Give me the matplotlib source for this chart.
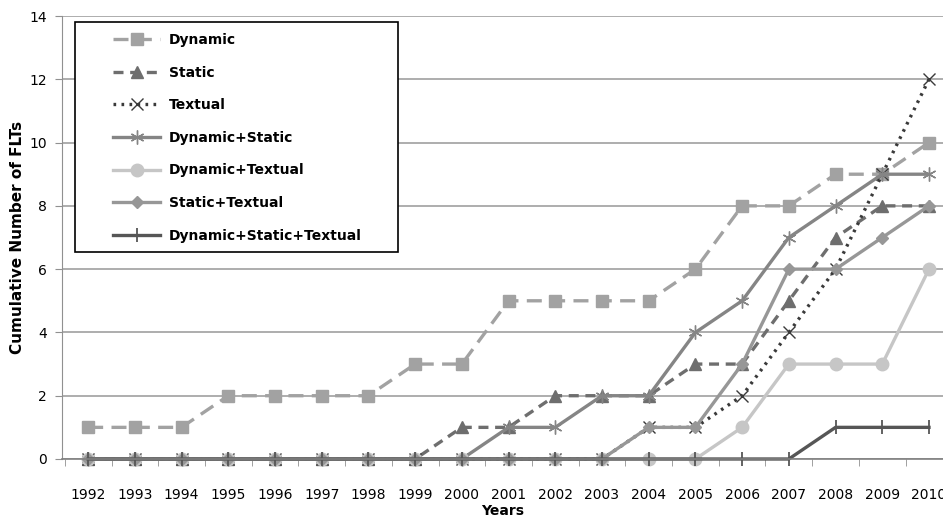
import matplotlib
matplotlib.use("Agg")
import matplotlib.pyplot as plt
from matplotlib.patches import Rectangle
import numpy as np

years = [str(y) for y in range(1992, 2011)]
dynamic = [1, 1, 1, 2, 2, 2, 2, 3, 3, 5, 5, 5, 5, 6, 8, 8, 9, 9, 10]
static = [0, 0, 0, 0, 0, 0, 0, 0, 1, 1, 2, 2, 2, 3, 3, 5, 7, 8, 8]
textual = [0, 0, 0, 0, 0, 0, 0, 0, 0, 0, 0, 0, 1, 1, 2, 4, 6, 9, 12]
dyn_static = [0, 0, 0, 0, 0, 0, 0, 0, 0, 1, 1, 2, 2, 4, 5, 7, 8, 9, 9]
dyn_textual = [0, 0, 0, 0, 0, 0, 0, 0, 0, 0, 0, 0, 0, 0, 1, 3, 3, 3, 6]
static_textual = [0, 0, 0, 0, 0, 0, 0, 0, 0, 0, 0, 0, 1, 1, 3, 6, 6, 7, 8]
dst = [0, 0, 0, 0, 0, 0, 0, 0, 0, 0, 0, 0, 0, 0, 0, 0, 1, 1, 1]

series = [
    ("Dynamic", dynamic, dict(color="#a2a2a2", linestyle=(0, (4.5, 2.5)), marker="s", markersize=9)),
    ("Static", static, dict(color="#6e6e6e", linestyle=(0, (3, 2)), marker="^", markersize=9)),
    ("Textual", textual, dict(color="#3a3a3a", linestyle=(0, (0.8, 1.6)), marker="x", markersize=8, markeredgewidth=1.0)),
    ("Dynamic+Static", dyn_static, dict(color="#858585", linestyle="-", marker=(6, 2, 0), markersize=10, markeredgewidth=1.0)),
    ("Dynamic+Textual", dyn_textual, dict(color="#c6c6c6", linestyle="-", marker="o", markersize=9)),
    ("Static+Textual", static_textual, dict(color="#979797", linestyle="-", marker="D", markersize=6)),
    ("Dynamic+Static+Textual", dst, dict(color="#565656", linestyle="-", marker="|", markersize=10, markeredgewidth=1.3)),
]

W, H = 943, 517
fig = plt.figure(figsize=(W / 100, H / 100), dpi=100)
ax = fig.add_axes([62 / W, 1 - 459 / H, 1 - 62 / W, (459 - 16) / H])
x = np.arange(len(years))
handles = []
for name, vals, st in series:
    st = dict(st)
    ls = st.pop("linestyle")
    h, = ax.plot(x, vals, label=name, linestyle=ls, linewidth=2.4, clip_on=False, **st)
    handles.append(h)

ax.set_xlim(-0.56, 18.3)
ax.set_ylim(0, 14)
ax.set_yticks(range(0, 15, 2))
ax.set_xticks(x)
ax.set_xticklabels(years)
ax.set_xticks(np.arange(-0.5, 18.5, 1), minor=True)
ax.tick_params(axis="x", which="major", length=0, pad=21, labelsize=10, colors="black")
ax.tick_params(axis="x", which="minor", length=5, color="#909090", direction="out")
ax.tick_params(axis="y", length=5, color="#909090", pad=6, labelsize=10)
ax.grid(axis="y", color="#a0a0a0", linewidth=1.2)
ax.set_axisbelow(True)
for s in ["top", "right"]:
    ax.spines[s].set_visible(False)
ax.spines["left"].set_color("#909090")
ax.spines["bottom"].set_color("#808080")
ax.spines["bottom"].set_linewidth(1.2)

ax.set_xlabel("Years", fontweight="bold", fontsize=10, labelpad=1)
ax.set_ylabel("Cumulative Number of FLTs", fontweight="bold", fontsize=11, labelpad=3)

# legend frame
frame = Rectangle((75 / W, 1 - 252 / H), 323 / W, 230 / H, transform=fig.transFigure,
                  facecolor="white", edgecolor="black", linewidth=1.2, zorder=5)
fig.patches.append(frame)
leg = fig.legend(handles=handles, loc="upper left", bbox_to_anchor=(113 / W, 1 - 33 / H),
                 bbox_transform=fig.transFigure,
                 frameon=False, handlelength=3.4, labelspacing=1.34, borderpad=0,
                 prop=dict(weight="bold", size=10), handletextpad=0.6, borderaxespad=0)
leg.set_zorder(6)

fig.savefig("out.png", dpi=100)
